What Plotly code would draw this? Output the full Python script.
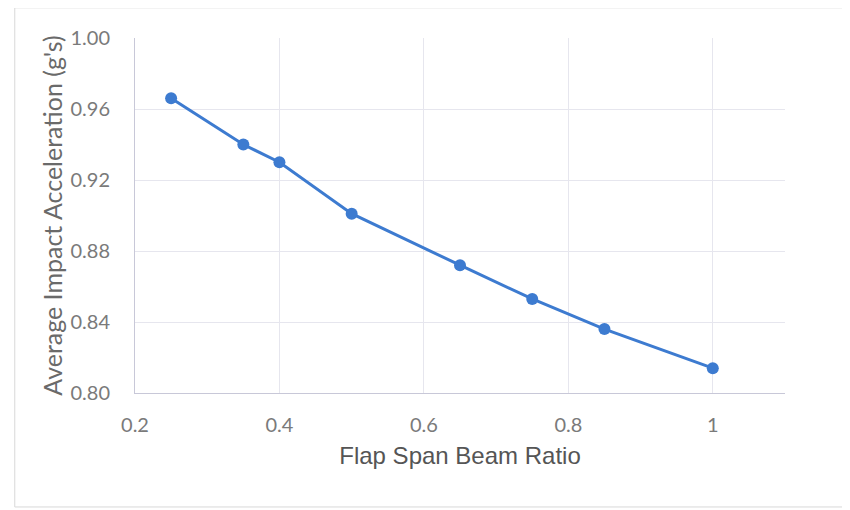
import plotly.graph_objects as go

flap_ratio = [0.25, 0.35, 0.40, 0.50, 0.65, 0.75, 0.85, 1.00]
avg_accel = [0.966, 0.940, 0.930, 0.901, 0.872, 0.853, 0.836, 0.814]
x_ticks = [0.2, 0.4, 0.6, 0.8, 1.0]
x_tick_text = ["0.2", "0.4", "0.6", "0.8", "1"]
y_ticks = [0.80, 0.84, 0.88, 0.92, 0.96, 1.00]
y_tick_text = ["0.80", "0.84", "0.88", "0.92", "0.96", "1.00"]

fig = go.Figure()
fig.add_trace(go.Scatter(
    x=flap_ratio, y=avg_accel, mode="lines+markers",
    line=dict(color="#3d7bd0", width=3),
    marker=dict(color="#3d7bd0", size=12),
    showlegend=False,
))

tick_font = dict(family="Lato, Open Sans, sans-serif", size=20, color="#7a7a7a")
fig.update_layout(
    width=850, height=510,
    margin=dict(l=127, r=73, t=30, b=125, autoexpand=False),
    paper_bgcolor="white", plot_bgcolor="white",
    xaxis=dict(
        range=[0.2, 1.1], tickvals=x_ticks, ticktext=x_tick_text,
        showgrid=True, gridcolor="#e6e6ee", gridwidth=1,
        showline=True, linecolor="#c8c8d8", linewidth=1,
        ticks="outside", ticklen=14, tickcolor="rgba(0,0,0,0)",
        tickfont=tick_font, zeroline=False,
        title=dict(text="Flap Span Beam Ratio", standoff=12,
                   font=dict(family="Liberation Sans, Arial, sans-serif", size=24, color="#555555")),
    ),
    yaxis=dict(
        range=[0.80, 1.00], tickvals=y_ticks, ticktext=y_tick_text,
        showgrid=True, gridcolor="#e6e6ee", gridwidth=1,
        showline=True, linecolor="#c8c8d8", linewidth=1,
        ticks="outside", ticklen=20, tickcolor="rgba(0,0,0,0)",
        tickfont=tick_font, zeroline=False,
        title=dict(text="Average Impact Acceleration (g's)", standoff=0,
                   font=dict(family="Lato, Open Sans, sans-serif", size=25, color="#6a6a6a")),
    ),
)

fig.add_shape(type="rect", xref="paper", yref="paper",
              x0=-0.185, x1=1.2, y0=-0.321, y1=1.085,
              line=dict(color="#d8d8d8", width=1), layer="below")

fig.write_html("out.html")
